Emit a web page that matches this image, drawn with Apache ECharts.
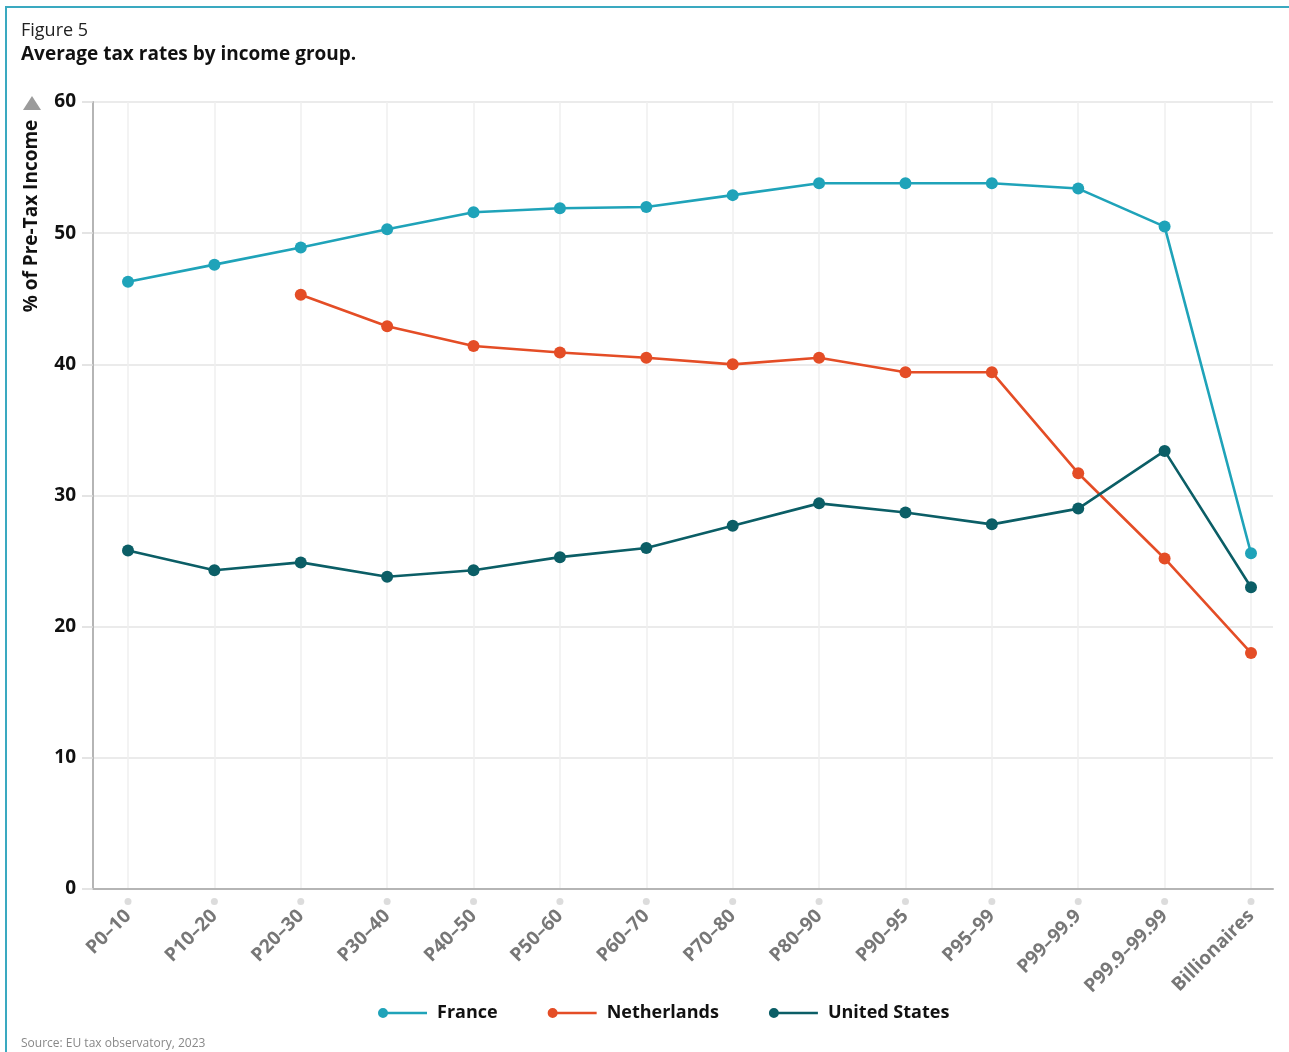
<!DOCTYPE html>
<html>
<head>
<meta charset="utf-8">
<title>Average tax rates by income group</title>
<script src="https://cdn.jsdelivr.net/npm/echarts@6/dist/echarts.min.js"></script>
<style>
  html, body { margin: 0; padding: 0; background: #fff; }
  #frame {
    position: absolute; left: 5px; top: 6px; right: 0; bottom: 0;
    border-top: 2px solid #3aa9c0; border-left: 2px solid #3aa9c0;
    pointer-events: none; z-index: 2;
  }
  #chart { position: absolute; left: 0; top: 0; width: 1289px; height: 1052px; }
</style>
</head>
<body>
<div id="chart"></div>
<div id="frame"></div>
<script>
// Income groups along the x axis
const categories = ['P0–10', 'P10–20', 'P20–30', 'P30–40', 'P40–50', 'P50–60', 'P60–70',
  'P70–80', 'P80–90', 'P90–95', 'P95–99', 'P99–99.9', 'P99.9–99.99', 'Billionaires'];

// Average tax rate, % of pre-tax income
const france = [46.3, 47.6, 48.9, 50.3, 51.6, 51.9, 52.0, 52.9, 53.8, 53.8, 53.8, 53.4, 50.5, 25.6];
const netherlands = [null, null, 45.3, 42.9, 41.4, 40.9, 40.5, 40.0, 40.5, 39.4, 39.4, 31.7, 25.2, 18.0];
const unitedStates = [25.8, 24.3, 24.9, 23.8, 24.3, 25.3, 26.0, 27.7, 29.4, 28.7, 27.8, 29.0, 33.4, 23.0];

// y axis ticks
const yTicks = [0, 10, 20, 30, 40, 50, 60];

const FONT = '"Open Sans", "Noto Sans", sans-serif';
const colors = { france: '#1fa3b9', netherlands: '#e44d26', us: '#0b5e66' };

const chart = echarts.init(document.getElementById('chart'), null, { renderer: 'canvas' });

const lineSeries = (name, data, color) => ({
  name, type: 'line', data,
  xAxisIndex: 1, yAxisIndex: 1,
  symbol: 'circle', symbolSize: 12,
  itemStyle: { color },
  lineStyle: { color, width: 2.6 },
  emphasis: { disabled: true },
  z: 5
});

const legendIcon = 'path://M5,0 A5,5 0 1 1 5,10 A5,5 0 1 1 5,0 Z M8,3.7 L49,3.7 L49,6.3 L8,6.3 Z';

chart.setOption({
  animation: false,
  backgroundColor: '#fff',
  textStyle: { fontFamily: FONT },
  title: [
    { text: 'Figure 5', left: 16, top: 17,
      textStyle: { fontFamily: FONT, fontSize: 18, fontWeight: 'normal', color: '#222' } },
    { text: 'Average tax rates by income group.', left: 16, top: 40,
      textStyle: { fontFamily: FONT, fontSize: 19, fontWeight: 'bold', color: '#111' } },
    { text: 'Source: EU tax observatory, 2023', left: 16, top: 1033,
      textStyle: { fontFamily: FONT, fontSize: 12, fontWeight: 'normal', color: '#888' } }
  ],
  legend: {
    left: 378, top: 1004, padding: 0,
    itemWidth: 49, itemHeight: 11, itemGap: 50,
    icon: legendIcon,
    textStyle: { fontFamily: FONT, fontSize: 18, fontWeight: 'bold', color: '#111', padding: [0, 0, 0, 5] },
    data: ['France', 'Netherlands', 'United States']
  },
  graphic: [
    { type: 'polygon', shape: { points: [[32, 96], [41, 110], [23, 110]] },
      style: { fill: '#9b9b9b' } },
    { type: 'text', x: 32, y: 216, rotation: Math.PI / 2,
      style: { text: '% of Pre-Tax Income', fill: '#111', align: 'center', verticalAlign: 'middle',
        font: 'bold 19px ' + FONT } }
  ],
  grid: [
    { left: 93, right: 16, top: 102, bottom: 163 },
    { left: 128, right: 38, top: 102, bottom: 163 }
  ],
  xAxis: [
    { type: 'value', gridIndex: 0, min: 0, max: 1, show: true,
      axisLine: { show: true, lineStyle: { color: '#b5b5b5', width: 2 } },
      axisTick: { show: false }, axisLabel: { show: false }, splitLine: { show: false } },
    { type: 'category', gridIndex: 1, data: categories, boundaryGap: false,
      axisLine: { show: false }, axisTick: { show: false },
      splitLine: { show: true, lineStyle: { color: '#efefef', width: 1.5 } },
      axisLabel: { rotate: 45, margin: 24, interval: 0, color: '#777',
        fontFamily: FONT, fontSize: 19, fontWeight: 'bold' } }
  ],
  yAxis: [
    { type: 'value', gridIndex: 0, min: yTicks[0], max: yTicks[yTicks.length - 1], interval: 10,
      axisLine: { show: true, lineStyle: { color: '#b5b5b5', width: 2 } },
      axisTick: { show: true, length: 11, lineStyle: { color: '#dcdcdc', width: 1.5 } },
      axisLabel: { margin: 17, color: '#111', fontFamily: FONT, fontSize: 19, fontWeight: 'bold' },
      splitLine: { show: true, lineStyle: { color: '#e4e4e4', width: 1.5 } } },
    { type: 'value', gridIndex: 1, min: yTicks[0], max: yTicks[yTicks.length - 1], show: false,
      splitLine: { show: false } }
  ],
  series: [
    lineSeries('France', france, colors.france),
    lineSeries('Netherlands', netherlands, colors.netherlands),
    lineSeries('United States', unitedStates, colors.us),
    // tick dots hanging under the x axis, one per income group
    { type: 'scatter', xAxisIndex: 1, yAxisIndex: 1, clip: false, silent: true,
      symbol: 'circle', symbolSize: 7, itemStyle: { color: '#d3d3d3' },
      data: categories.map(c => [c, -0.95]), z: 3 }
  ]
});
</script>
</body>
</html>
